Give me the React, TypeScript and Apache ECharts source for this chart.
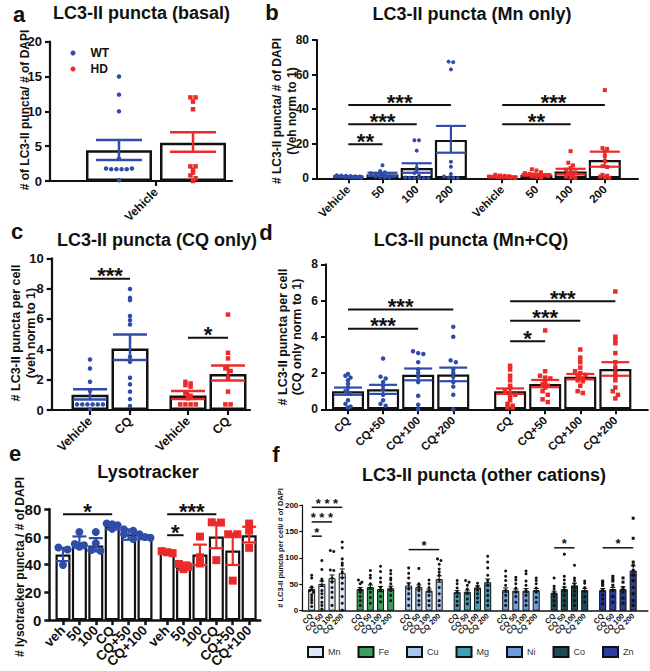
import React, { useEffect, useRef } from "react";
import * as echarts from "echarts";

// ---------------- DATA ----------------
// Panel a — LC3-II puncta (basal)
const aTickLabels = ["Vehicle"];
const aMean = [4.4, 5.5];
const aLow = [3.0, 4.2];
const aHigh = [5.9, 7.0];
const aPtsWT = [15, 12.4, 10, 3.2, 1.8, 1.7, 1.7, 1.7, 1.7, 1.8, 0.1];
const aPtsHD = [12, 12, 11.4, 10.3, 2.1, 2.1, 1.6, 1.2, 0.8, 0.4, 0];

// Panel b — LC3-II puncta (Mn only)
const bTickLabels = ["Vehicle", "50", "100", "200"];
const bMeanWT = [1.0, 2.2, 5.9, 22.2];
const bLowWT = [0.8, 1.4, 3.2, 14.8];
const bHighWT = [1.2, 3.2, 8.7, 30.3];
const bMeanHD = [1.0, 1.9, 3.9, 10.6];
const bLowHD = [0.85, 1.5, 2.2, 6.7];
const bHighHD = [1.15, 2.4, 5.5, 15.4];
const bPtsWT = [
  [1.8, 1.6, 1.5, 1.3, 1.2, 1.1, 1.0, 1.0, 0.9, 0.8, 0.7, 0.6, 0.5, 0.4, 0.3],
  [7.5, 4.2, 3.5, 3.0, 2.6, 2.2, 2.0, 1.5, 1.2, 1.0, 0.8, 0.5, 0.3],
  [22, 22, 16, 6, 4.8, 3, 1.5, 0.5, 0.3, 0.2, 0.2, 0.1, 0.1],
  [67.5, 67.2, 63, 9.6, 6.7, 2.5, 1, 0.5, 0.3, 0.1],
];
const bPtsHD = [
  [2.0, 1.6, 1.4, 1.2, 1.0, 0.9, 0.8, 0.6, 0.5, 0.4, 0.3],
  [5.2, 4.5, 3.5, 3.0, 2.5, 2.2, 2.0, 1.6, 1.3, 1.0, 0.8, 0.5],
  [15.7, 9.0, 7.5, 6.0, 5.0, 4.0, 3.5, 2.5, 1.5, 1.0, 0.5, 0.2],
  [51, 17.5, 17, 15.5, 13, 10, 7, 6.5, 2, 1.5, 1, 0.5, 0.3],
];
// [fromBar, toBar, y, stars]
const bSig = [
  [0, 1, 19.7, 2],
  [0, 2, 31.2, 3],
  [0, 3, 42.4, 3],
  [4, 6, 31.2, 2],
  [4, 7, 42.4, 3],
];

// Panel c — LC3-II puncta (CQ only)
const cTickLabels = ["Vehicle", "CQ"];
const cMeanWT = [1.0, 4.06];
const cLowWT = [0.7, 3.29];
const cHighWT = [1.36, 4.98];
const cMeanHD = [0.96, 2.37];
const cLowHD = [0.72, 1.95];
const cHighHD = [1.25, 2.94];
const cPtsWT = [
  [3.33, 2.74, 1.86, 1.27, 0.37, 0.37, 0.37, 0.37, 0.37, 0.37, 0.04],
  [7.98, 7.39, 7.24, 6.2, 5.92, 5.64, 3.5, 3.18, 2.13, 1.69, 1.21, 0.72, 0.26],
];
const cPtsHD = [
  [1.86, 1.75, 1.64, 1.54, 1.1, 0.94, 0.77, 0.37, 0.37, 0.37, 0.37],
  [6.29, 3.77, 3.4, 2.74, 2.57, 2.13, 1.21, 0.37, 0.37],
];
const cSig = [
  [0, 1, 8.66, 3],
  [2, 3, 4.76, 1],
];

// Panel d — LC3-II puncta (Mn+CQ)
const dTickLabels = ["CQ", "CQ+50", "CQ+100", "CQ+200"];
const dMeanWT = [1.0, 1.1, 1.9, 1.92];
const dLowWT = [0.8, 0.85, 1.6, 1.55];
const dHighWT = [1.2, 1.35, 2.25, 2.3];
const dMeanHD = [1.0, 1.4, 1.8, 2.22];
const dLowHD = [0.85, 1.22, 1.65, 1.85];
const dHighHD = [1.15, 1.62, 1.95, 2.6];
const dPtsWT = [
  [1.95, 1.85, 1.75, 1.6, 1.4, 1.2, 1.0, 0.85, 0.5, 0.3, 0.15, 0.1],
  [2.8, 1.8, 1.7, 1.5, 1.3, 1.1, 0.8, 0.5, 0.3, 0.2],
  [3.2, 3.1, 3.05, 2.6, 2.2, 2.0, 1.8, 1.5, 0.75, 0.25, 0.0],
  [4.55, 4.0, 2.7, 2.6, 2.2, 2.0, 1.8, 1.5, 1.25, 0.8, 0.0],
];
const dPtsHD = [
  [2.4, 2.2, 1.85, 1.6, 1.3, 1.2, 1.0, 0.9, 0.8, 0.7, 0.5, 0.3, 0.2, 0.1, 0.1],
  [4.35, 2.1, 1.85, 1.75, 1.7, 1.5, 1.4, 1.3, 1.2, 1.0, 0.8, 0.55, 0.4],
  [3.3, 2.85, 2.6, 2.3, 2.1, 2.0, 1.9, 1.8, 1.7, 1.6, 1.55, 1.3, 1.0, 0.9],
  [6.5, 4.0, 3.85, 3.65, 3.1, 2.6, 2.3, 2.0, 1.8, 1.6, 1.2, 1.0, 0.8, 0.6],
];
const dSig = [
  [0, 2, 4.45, 3],
  [0, 3, 5.5, 3],
  [4, 5, 3.76, 1],
  [4, 6, 4.88, 3],
  [4, 7, 5.96, 3],
];

// Panel e — Lysotracker
const eTickLabels = ["veh", "50", "100", "CQ", "CQ+50", "CQ+100"];
const eMeanWT = [47.3, 56.1, 53.8, 67.8, 62, 59.6];
const eLowWT = [42.6, 52.2, 49.6, 65.5, 58, 58.4];
const eHighWT = [52.2, 60.4, 59.2, 70, 65.5, 61.3];
const eMeanHD = [49.3, 38.6, 47.3, 60.4, 50.3, 61.3];
const eLowHD = [48.3, 36.3, 39.8, 51.9, 39.8, 56.1];
const eHighHD = [50.3, 41.6, 54.5, 70.5, 62.5, 67.4];
const ePtsWT = [
  [52.4, 51, 39.8],
  [63.6, 55, 54, 53],
  [63.6, 55.5, 50.5, 50],
  [69.7, 69.2, 68.5, 66],
  [65.5, 64.5, 62, 58.5],
  [62, 60, 59.5],
];
const ePtsHD = [
  [49.8, 49, 48.3],
  [40.5, 38.5, 36.8],
  [60.3, 45.4, 40.9],
  [70.6, 70.4, 43.3],
  [62, 62, 28.5],
  [69.7, 64.6, 52.2],
];
const eSig = [
  [0, 3, 76.5, 1],
  [6, 9, 76.5, 3],
  [6, 7, 61.3, 1],
];

// Panel f — LC3-II puncta (other cations)
const fCations = ["Mn", "Fe", "Cu", "Mg", "Ni", "Co", "Zn"];
const fTickLabels = ["CQ", "CQ 50", "CQ 100", "CQ 200"];
const fMean = [
  [41.3, 50.8, 61.6, 71],
  [41, 44.7, 41, 42.5],
  [47.6, 44.7, 38, 60],
  [35, 36, 44, 54],
  [39, 38, 38, 39],
  [34, 41, 48, 39],
  [39, 41, 41, 76],
];
const fSem = [
  [3, 5, 6, 8],
  [3, 4, 5, 4],
  [5, 4, 3, 6],
  [3, 3, 3, 6],
  [4, 3, 4, 3],
  [3, 4, 4, 3],
  [3, 3, 4, 9],
];
const fPts = [
  [
    [67, 62, 45, 40, 38, 35, 30, 25, 20, 15, 8],
    [95, 78, 60, 57, 48, 38, 32, 25, 16, 10, 3],
    [114, 112, 77, 76, 62, 54, 44, 35, 25, 10],
    [130, 119, 98, 90, 86, 73, 62, 52, 41, 27, 14, 1],
  ],
  [
    [58, 54, 51, 41, 35, 27, 19, 10],
    [76, 67, 62, 51, 43, 35, 25, 14],
    [84, 74, 62, 54, 44, 38, 27, 17],
    [76, 70, 62, 58, 51, 44, 38, 29, 19],
  ],
  [
    [81, 71, 62, 51, 41, 32, 22, 10],
    [80, 51, 45, 38, 29, 19, 11],
    [58, 51, 44, 37, 29, 19, 10],
    [98, 95, 88, 79, 73, 67, 58, 44, 32, 19, 10],
  ],
  [
    [57, 51, 43, 35, 27, 18, 10],
    [57, 54, 48, 41, 32, 22, 13],
    [52, 46, 39, 32, 24, 16],
    [103, 92, 81, 67, 57, 48, 38, 29, 19, 10],
  ],
  [
    [75, 65, 57, 48, 38, 29, 19, 10],
    [63, 58, 51, 43, 35, 27, 16],
    [75, 70, 56, 48, 38, 29, 19, 10],
    [62, 57, 51, 43, 35, 25, 16],
  ],
  [
    [62, 46, 41, 35, 27, 19, 10],
    [107, 65, 58, 51, 44, 37, 29, 19, 10],
    [86, 62, 57, 51, 44, 37, 29, 19, 10],
    [56, 52, 44, 37, 27, 16],
  ],
  [
    [56, 52, 48, 39, 30, 22, 13],
    [65, 60, 56, 48, 38, 27, 16],
    [62, 54, 44, 35, 24, 14],
    [175, 137, 92, 86, 76, 67, 57, 44, 32, 19, 10],
  ],
];
// [cation, fromBar, toBar, y, stars]
const fSig = [
  [0, 0, 1, 141, 1],
  [0, 0, 2, 168, 3],
  [0, 0, 3, 195.6, 3],
  [2, 0, 3, 115.6, 1],
  [5, 0, 2, 119, 1],
  [6, 0, 3, 119, 1],
];

// ---------------- STYLE / LAYOUT ----------------
const FONT = '"Liberation Sans", Arial, Helvetica, sans-serif';
const BLUE = "#2f4da8";
const RED = "#ec2a2a";
const INK = "#111111";
const fColors = ["#dde7f5", "#3c9e5c", "#a8c7ed", "#3e9fb6", "#6f9bdf", "#1d4b57", "#2b3da0"];

const LAYOUT = [
  { left: 50, top: 41.7, width: 182, height: 139.3, xMin: -1.432, xMax: 1.027, yMax: 20, yInt: 5 },
  { left: 317, top: 40, width: 321, height: 138.3, xMin: 0.085, xMax: 9.47, yMax: 80, yInt: 20 },
  { left: 51.7, top: 258.3, width: 198.3, height: 151.7, xMin: 0.0425, xMax: 5.0, yMax: 10, yInt: 2 },
  { left: 326, top: 264.3, width: 322, height: 145, xMin: 0.373, xMax: 9.547, yMax: 8, yInt: 2 },
  { left: 49.3, top: 509.3, width: 211, height: 114, xMin: 0.165, xMax: 13.03, yMax: 80, yInt: 20 },
  { left: 302.3, top: 505, width: 345.7, height: 105.7, xMin: -0.92, xMax: 33.0, yMax: 200, yInt: 50 },
];

const POS_A = [-0.5, 0.5];
const TICK_A = [0];
const POS_B = [1, 2, 3, 4, 5.5, 6.5, 7.5, 8.5];
const POS_C = [1, 2, 3.45, 4.45];
const POS_D = [1, 2, 3, 4, 5.62, 6.62, 7.62, 8.62];
const POS_E = [1, 2, 3, 4, 5, 6, 7.35, 8.35, 9.35, 10.35, 11.35, 12.35];
const F_STRIDE = 4.76;
const POS_F = fCations.map((_, g) => [0, 1, 2, 3].map((j) => g * F_STRIDE + j));

const pxX = (i: number) => LAYOUT[i].width / (LAYOUT[i].xMax - LAYOUT[i].xMin);
const pxY = (i: number) => LAYOUT[i].height / LAYOUT[i].yMax;

function swarm(center: number, values: number[], ppx: number, ppy: number, size: number, maxSpread: number) {
  const rows = new Map<number, number[]>();
  values.forEach((v) => {
    const key = Math.round((v * ppy) / (size * 0.9));
    if (!rows.has(key)) rows.set(key, []);
    rows.get(key)!.push(v);
  });
  const out: number[][] = [];
  rows.forEach((r) => {
    const n = r.length;
    const step = n > 1 ? Math.min(size * 1.15, maxSpread / (n - 1)) : 0;
    r.forEach((v, k) => out.push([center + ((k - (n - 1) / 2) * step) / ppx, v]));
  });
  return out;
}

function xAxisFor(i: number, ticks: number[], labels: string[], fontSize: number, lw: number, margin: number, showTicks: boolean) {
  const p = LAYOUT[i];
  // blank sentinel labels at the axis ends keep every real label visible
  const labelValues = [p.xMin, ...ticks, p.xMax];
  const labelTexts = ["", ...labels, ""];
  return {
    type: "value",
    gridIndex: i,
    min: p.xMin,
    max: p.xMax,
    axisLine: { show: true, onZero: false, lineStyle: { color: INK, width: lw } },
    axisTick: { show: showTicks, customValues: ticks, length: 5, lineStyle: { color: INK, width: lw } },
    axisLabel: {
      show: true,
      customValues: labelValues,
      rotate: 45,
      margin,
      color: INK,
      fontSize,
      fontWeight: "bold",
      fontFamily: FONT,
      formatter: (v: number) => {
        const k = labelValues.findIndex((t) => Math.abs(t - v) < 1e-6);
        return k >= 0 ? labelTexts[k] : "";
      },
    },
    splitLine: { show: false },
  };
}

function yAxisFor(i: number, fontSize: number, lw: number, tickLen: number, margin: number) {
  const p = LAYOUT[i];
  return {
    type: "value",
    gridIndex: i,
    min: 0,
    max: p.yMax,
    interval: p.yInt,
    axisLine: { show: true, onZero: false, lineStyle: { color: INK, width: lw } },
    axisTick: { show: true, length: tickLen, lineStyle: { color: INK, width: lw } },
    axisLabel: { color: INK, fontSize, fontWeight: "bold", fontFamily: FONT, margin },
    splitLine: { show: false },
  };
}

function barsFor(i: number, pos: number[], means: number[], width: number, fill: string, bw: number, name?: string) {
  return {
    type: "bar",
    name,
    xAxisIndex: i,
    yAxisIndex: i,
    barWidth: width,
    barGap: "-100%",
    z: 2,
    silent: true,
    data: pos.map((x, k) => [x, means[k]]),
    itemStyle: { color: fill, borderColor: INK, borderWidth: bw },
  };
}

function dotsFor(i: number, pos: number[], groups: number[][], color: string, symbol: string, size: number, spread: number, name: string) {
  const data: number[][] = [];
  groups.forEach((vals, k) => swarm(pos[k], vals, pxX(i), pxY(i), size, spread).forEach((d) => data.push(d)));
  return {
    type: "scatter",
    name,
    xAxisIndex: i,
    yAxisIndex: i,
    symbol,
    symbolSize: size,
    z: 3,
    silent: true,
    itemStyle: { color, opacity: 1 },
    data,
  };
}

function errFor(i: number, pos: number[], lo: number[], hi: number[], color: string, cap: number, lw: number) {
  return {
    type: "custom",
    xAxisIndex: i,
    yAxisIndex: i,
    z: 5,
    silent: true,
    data: pos.map((x, k) => [x, lo[k], hi[k]]),
    encode: { x: 0, y: [1, 2] },
    renderItem: (_params: any, api: any) => {
      const x = api.value(0);
      const a = api.coord([x, api.value(1)]);
      const b = api.coord([x, api.value(2)]);
      const h = cap / 2;
      const st = { stroke: color, lineWidth: lw };
      return {
        type: "group",
        children: [
          { type: "line", shape: { x1: a[0], y1: a[1], x2: b[0], y2: b[1] }, style: st },
          { type: "line", shape: { x1: a[0] - h, y1: a[1], x2: a[0] + h, y2: a[1] }, style: st },
          { type: "line", shape: { x1: b[0] - h, y1: b[1], x2: b[0] + h, y2: b[1] }, style: st },
        ],
      };
    },
  };
}

function sigFor(i: number, rows: number[][], fontSize: number, lw: number, joiner: string, lift: number) {
  return {
    type: "custom",
    xAxisIndex: i,
    yAxisIndex: i,
    z: 6,
    silent: true,
    data: rows,
    encode: { x: [0, 1], y: 2 },
    renderItem: (_params: any, api: any) => {
      const p1 = api.coord([api.value(0), api.value(2)]);
      const p2 = api.coord([api.value(1), api.value(2)]);
      const n = api.value(3);
      const txt = Array(n).fill("*").join(joiner);
      return {
        type: "group",
        children: [
          { type: "line", shape: { x1: p1[0], y1: p1[1], x2: p2[0], y2: p2[1] }, style: { stroke: INK, lineWidth: lw } },
          {
            type: "text",
            x: (p1[0] + p2[0]) / 2,
            y: p1[1] - lift,
            style: {
              text: txt,
              fill: INK,
              font: `bold ${fontSize}px ${FONT}`,
              textAlign: "center",
              textVerticalAlign: "middle",
              align: "center",
              verticalAlign: "middle",
            },
          },
        ],
      };
    },
  };
}

const sigRows = (pos: number[], sig: number[][]) => sig.map((s) => [pos[s[0]], pos[s[1]], s[2], s[3]]);

const TEXTS = [
  { t: "a", x: 19, y: 14, size: 22 },
  { t: "LC3-II puncta (basal)", x: 141.5, y: 13, size: 18 },
  { t: "b", x: 272, y: 12, size: 22 },
  { t: "LC3-II puncta (Mn only)", x: 472, y: 14, size: 18 },
  { t: "c", x: 17, y: 231, size: 22 },
  { t: "LC3-II puncta (CQ only)", x: 157, y: 240, size: 18 },
  { t: "d", x: 266, y: 232, size: 22 },
  { t: "LC3-II puncta (Mn+CQ)", x: 471, y: 240, size: 18 },
  { t: "e", x: 15, y: 453, size: 22 },
  { t: "Lysotracker", x: 148, y: 472, size: 18 },
  { t: "f", x: 276, y: 454, size: 22 },
  { t: "LC3-II puncta (other cations)", x: 484, y: 475, size: 18 },
  { t: "# of LC3-II puncta/ # of DAPI", x: 25, y: 110, size: 12, rot: true },
  { t: "# LC3-II puncta/ # of DAPI\n(Veh norm to 1)", x: 284.5, y: 111, size: 12, rot: true, lh: 15 },
  { t: "# LC3-II puncta per cell\n(veh norm to 1)", x: 23.5, y: 333, size: 12.5, rot: true, lh: 15 },
  { t: "# LC3-II puncta per cell\n(CQ only norm to 1)", x: 290, y: 337, size: 12.5, rot: true, lh: 14 },
  { t: "# lysotracker puncta / # of DAPI", x: 20, y: 567, size: 12, rot: true },
  { t: "# LC3-II puncta per cell/ # of DAPI", x: 280, y: 548, size: 7.5, rot: true },
];

function buildOption() {
  const series: any[] = [];
  // a
  series.push(barsFor(0, POS_A, aMean, 66, "#ffffff", 2.5));
  series.push(dotsFor(0, [POS_A[0]], [aPtsWT], BLUE, "circle", 4.5, 30, "WT"));
  series.push(dotsFor(0, [POS_A[1]], [aPtsHD], RED, "rect", 4.5, 30, "HD"));
  series.push(errFor(0, [POS_A[0]], [aLow[0]], [aHigh[0]], BLUE, 46, 2.5));
  series.push(errFor(0, [POS_A[1]], [aLow[1]], [aHigh[1]], RED, 46, 2.5));
  // b
  const bWT = POS_B.slice(0, 4);
  const bHD = POS_B.slice(4);
  series.push(barsFor(1, POS_B, bMeanWT.concat(bMeanHD), 32, "#ffffff", 2.2));
  series.push(dotsFor(1, bWT, bPtsWT, BLUE, "circle", 4, 26, "WT"));
  series.push(dotsFor(1, bHD, bPtsHD, RED, "rect", 4, 26, "HD"));
  series.push(errFor(1, bWT, bLowWT, bHighWT, BLUE, 30, 2.2));
  series.push(errFor(1, bHD, bLowHD, bHighHD, RED, 30, 2.2));
  series.push(sigFor(1, sigRows(POS_B, bSig), 22, 2, "", 3));
  // c
  const cWT = POS_C.slice(0, 2);
  const cHD = POS_C.slice(2);
  series.push(barsFor(2, POS_C, cMeanWT.concat(cMeanHD), 37, "#ffffff", 2.5));
  series.push(dotsFor(2, cWT, cPtsWT, BLUE, "circle", 4.5, 28, "WT"));
  series.push(dotsFor(2, cHD, cPtsHD, RED, "rect", 4.5, 28, "HD"));
  series.push(errFor(2, cWT, cLowWT, cHighWT, BLUE, 34, 2.5));
  series.push(errFor(2, cHD, cLowHD, cHighHD, RED, 34, 2.5));
  series.push(sigFor(2, sigRows(POS_C, cSig), 22, 2, "", 3));
  // d
  const dWT = POS_D.slice(0, 4);
  const dHD = POS_D.slice(4);
  series.push(barsFor(3, POS_D, dMeanWT.concat(dMeanHD), 32, "#ffffff", 2.2));
  series.push(dotsFor(3, dWT, dPtsWT, BLUE, "circle", 4.5, 26, "WT"));
  series.push(dotsFor(3, dHD, dPtsHD, RED, "rect", 4.5, 26, "HD"));
  series.push(errFor(3, dWT, dLowWT, dHighWT, BLUE, 28, 2.2));
  series.push(errFor(3, dHD, dLowHD, dHighHD, RED, 28, 2.2));
  series.push(sigFor(3, sigRows(POS_D, dSig), 22, 2, "", 3));
  // e
  const eWT = POS_E.slice(0, 6);
  const eHD = POS_E.slice(6);
  series.push(barsFor(4, POS_E, eMeanWT.concat(eMeanHD), 15, "#ffffff", 2.2));
  series.push(dotsFor(4, eWT, ePtsWT, BLUE, "circle", 8, 11, "WT"));
  series.push(dotsFor(4, eHD, ePtsHD, RED, "rect", 8, 11, "HD"));
  series.push(errFor(4, eWT, eLowWT, eHighWT, BLUE, 14, 2.2));
  series.push(errFor(4, eHD, eLowHD, eHighHD, RED, 14, 2.2));
  series.push(sigFor(4, sigRows(POS_E, eSig), 22, 2, "", 3));
  // f
  fCations.forEach((name, g) => {
    const pos = POS_F[g];
    series.push(barsFor(5, pos, fMean[g], 7, fColors[g], 1, name));
  });
  fCations.forEach((name, g) => {
    const pos = POS_F[g];
    series.push(dotsFor(5, pos, fPts[g], INK, g === 6 ? "rect" : "circle", 3, 6, name + " pts"));
    series.push(
      errFor(
        5,
        pos,
        fMean[g].map((m, k) => m - fSem[g][k]),
        fMean[g].map((m, k) => m + fSem[g][k]),
        INK,
        5,
        1
      )
    );
  });
  series.push(
    sigFor(
      5,
      fSig.map((s) => [POS_F[s[0]][s[1]], POS_F[s[0]][s[2]], s[3], s[4]]),
      13,
      1.5,
      " ",
      4
    )
  );

  const fTicks = POS_F.flat();
  const fLabels = fCations.flatMap(() => fTickLabels);

  return {
    animation: false,
    backgroundColor: "#ffffff",
    grid: LAYOUT.map((p) => ({ left: p.left, top: p.top, width: p.width, height: p.height, containLabel: false })),
    xAxis: [
      xAxisFor(0, TICK_A, aTickLabels, 12, 2.2, 9, true),
      xAxisFor(1, POS_B, bTickLabels.concat(bTickLabels), 11.5, 2, 9, true),
      xAxisFor(2, POS_C, cTickLabels.concat(cTickLabels), 12.5, 2.2, 9, true),
      xAxisFor(3, POS_D, dTickLabels.concat(dTickLabels), 11.5, 2, 9, true),
      xAxisFor(4, POS_E, eTickLabels.concat(eTickLabels), 13.5, 2.5, 8, true),
      xAxisFor(5, fTicks, fLabels, 7.5, 1.5, 4, false),
    ],
    yAxis: [
      yAxisFor(0, 13, 2.2, 5, 8),
      yAxisFor(1, 12, 2, 5, 8),
      yAxisFor(2, 13, 2.2, 5, 8),
      yAxisFor(3, 12, 2, 5, 8),
      yAxisFor(4, 15, 2.5, 5, 8),
      yAxisFor(5, 8, 1.2, 3, 4),
    ],
    legend: [
      {
        data: ["WT", "HD"],
        orient: "vertical",
        left: 65.5,
        top: 42,
        icon: "circle",
        itemWidth: 5,
        itemHeight: 5,
        itemGap: 4,
        selectedMode: false,
        textStyle: { color: INK, fontSize: 12, fontWeight: "bold", fontFamily: FONT, padding: [0, 0, 0, 10] },
      },
      {
        data: fCations,
        orient: "horizontal",
        left: 307,
        top: 646,
        width: 380,
        padding: 0,
        icon: "rect",
        itemWidth: 15,
        itemHeight: 10,
        itemGap: 17,
        selectedMode: false,
        textStyle: { color: "#333333", fontSize: 9, fontFamily: FONT },
      },
    ],
    graphic: {
      elements: TEXTS.map((tx: any) => ({
        type: "text",
        x: tx.x,
        y: tx.y,
        rotation: tx.rot ? Math.PI / 2 : 0,
        silent: true,
        style: {
          text: tx.t,
          fill: INK,
          font: `bold ${tx.size}px ${FONT}`,
          textAlign: "center",
          textVerticalAlign: "middle",
          align: "center",
          verticalAlign: "middle",
          lineHeight: tx.lh || tx.size * 1.2,
        },
      })),
    },
    series,
  };
}

export default function App() {
  const ref = useRef<HTMLDivElement>(null);
  useEffect(() => {
    if (!ref.current) return;
    const chart = echarts.init(ref.current, null, { renderer: "svg" });
    chart.setOption(buildOption() as any);
    return () => chart.dispose();
  }, []);
  return (
    <div
      ref={ref}
      style={{ position: "fixed", left: 0, top: 0, width: 650, height: 671, background: "#ffffff" }}
    />
  );
}
